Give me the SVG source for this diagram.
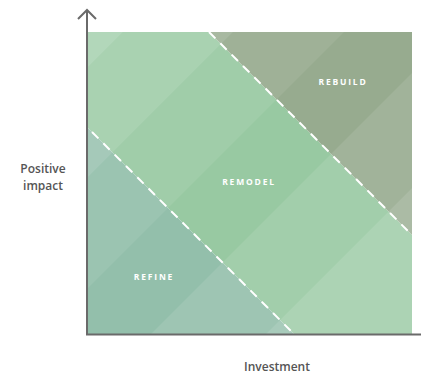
<svg xmlns="http://www.w3.org/2000/svg" width="421" height="376" viewBox="0 0 421 376">
  <style>
    .zone-label { font-family: "Open Sans", "Liberation Sans", sans-serif; font-weight: 700; font-size: 8.5px; letter-spacing: 1.8px; fill: #ffffff; text-anchor: middle; }
    .axis-label { font-family: "Open Sans", "Liberation Sans", sans-serif; font-weight: 600; font-size: 12px; fill: #555555; text-anchor: middle; }
    .axis { stroke: #6a6a6a; stroke-width: 2; fill: none; }
    .divider { stroke: #ffffff; stroke-width: 2; stroke-dasharray: 9 7; fill: none; }
    .band { fill: #ffffff; }
  </style>
  <defs>
    <clipPath id="chart-clip">
      <rect x="88" y="32" width="324" height="302"/>
    </clipPath>
  </defs>
  <rect width="421" height="376" fill="#ffffff"/>

  <g id="zones" clip-path="url(#chart-clip)">
    <g id="remodel">
      <polygon points="88,32 209,32 412,235 412,334 294,334 88,128" fill="#98c9a2"/>
    </g>
    <g id="refine">
      <polygon points="88,128 294,334 88,334" fill="#93bfab"/>
    </g>
    <g id="rebuild">
      <polygon points="209,32 412,32 412,235" fill="#97ab8f"/>
    </g>
    <g id="bands">
      <polygon class="band" opacity="0.26" points="0,0 155,0 -245,400 -400,400"/>
      <polygon class="band" opacity="0.17" points="155,0 265,0 -135,400 -245,400"/>
      <polygon class="band" opacity="0.08" points="265,0 376,0 -24,400 -135,400"/>
      <polygon class="band" opacity="0.1" points="485,0 600,0 200,400 85,400"/>
      <polygon class="band" opacity="0.2" points="600,0 900,0 500,400 200,400"/>
    </g>
  </g>

  <g id="connectors">
    <line class="divider" x1="209" y1="32" x2="412" y2="235"/>
    <line class="divider" x1="92" y1="132" x2="294" y2="334"/>
  </g>

  <g id="axes">
    <line class="axis" x1="87" y1="10" x2="87" y2="335"/>
    <polyline class="axis" points="78,19 87,10 96,19"/>
    <line class="axis" x1="86" y1="334.5" x2="421" y2="334.5"/>
  </g>

  <g id="label-rebuild"><text class="zone-label" x="343" y="85">REBUILD</text></g>
  <g id="label-remodel"><text class="zone-label" x="249" y="185">REMODEL</text></g>
  <g id="label-refine"><text class="zone-label" x="154" y="280">REFINE</text></g>

  <g id="label-y">
    <text class="axis-label" x="43" y="173">Positive</text>
    <text class="axis-label" x="43" y="190">impact</text>
  </g>
  <g id="label-x"><text class="axis-label" x="277" y="371">Investment</text></g>
</svg>
